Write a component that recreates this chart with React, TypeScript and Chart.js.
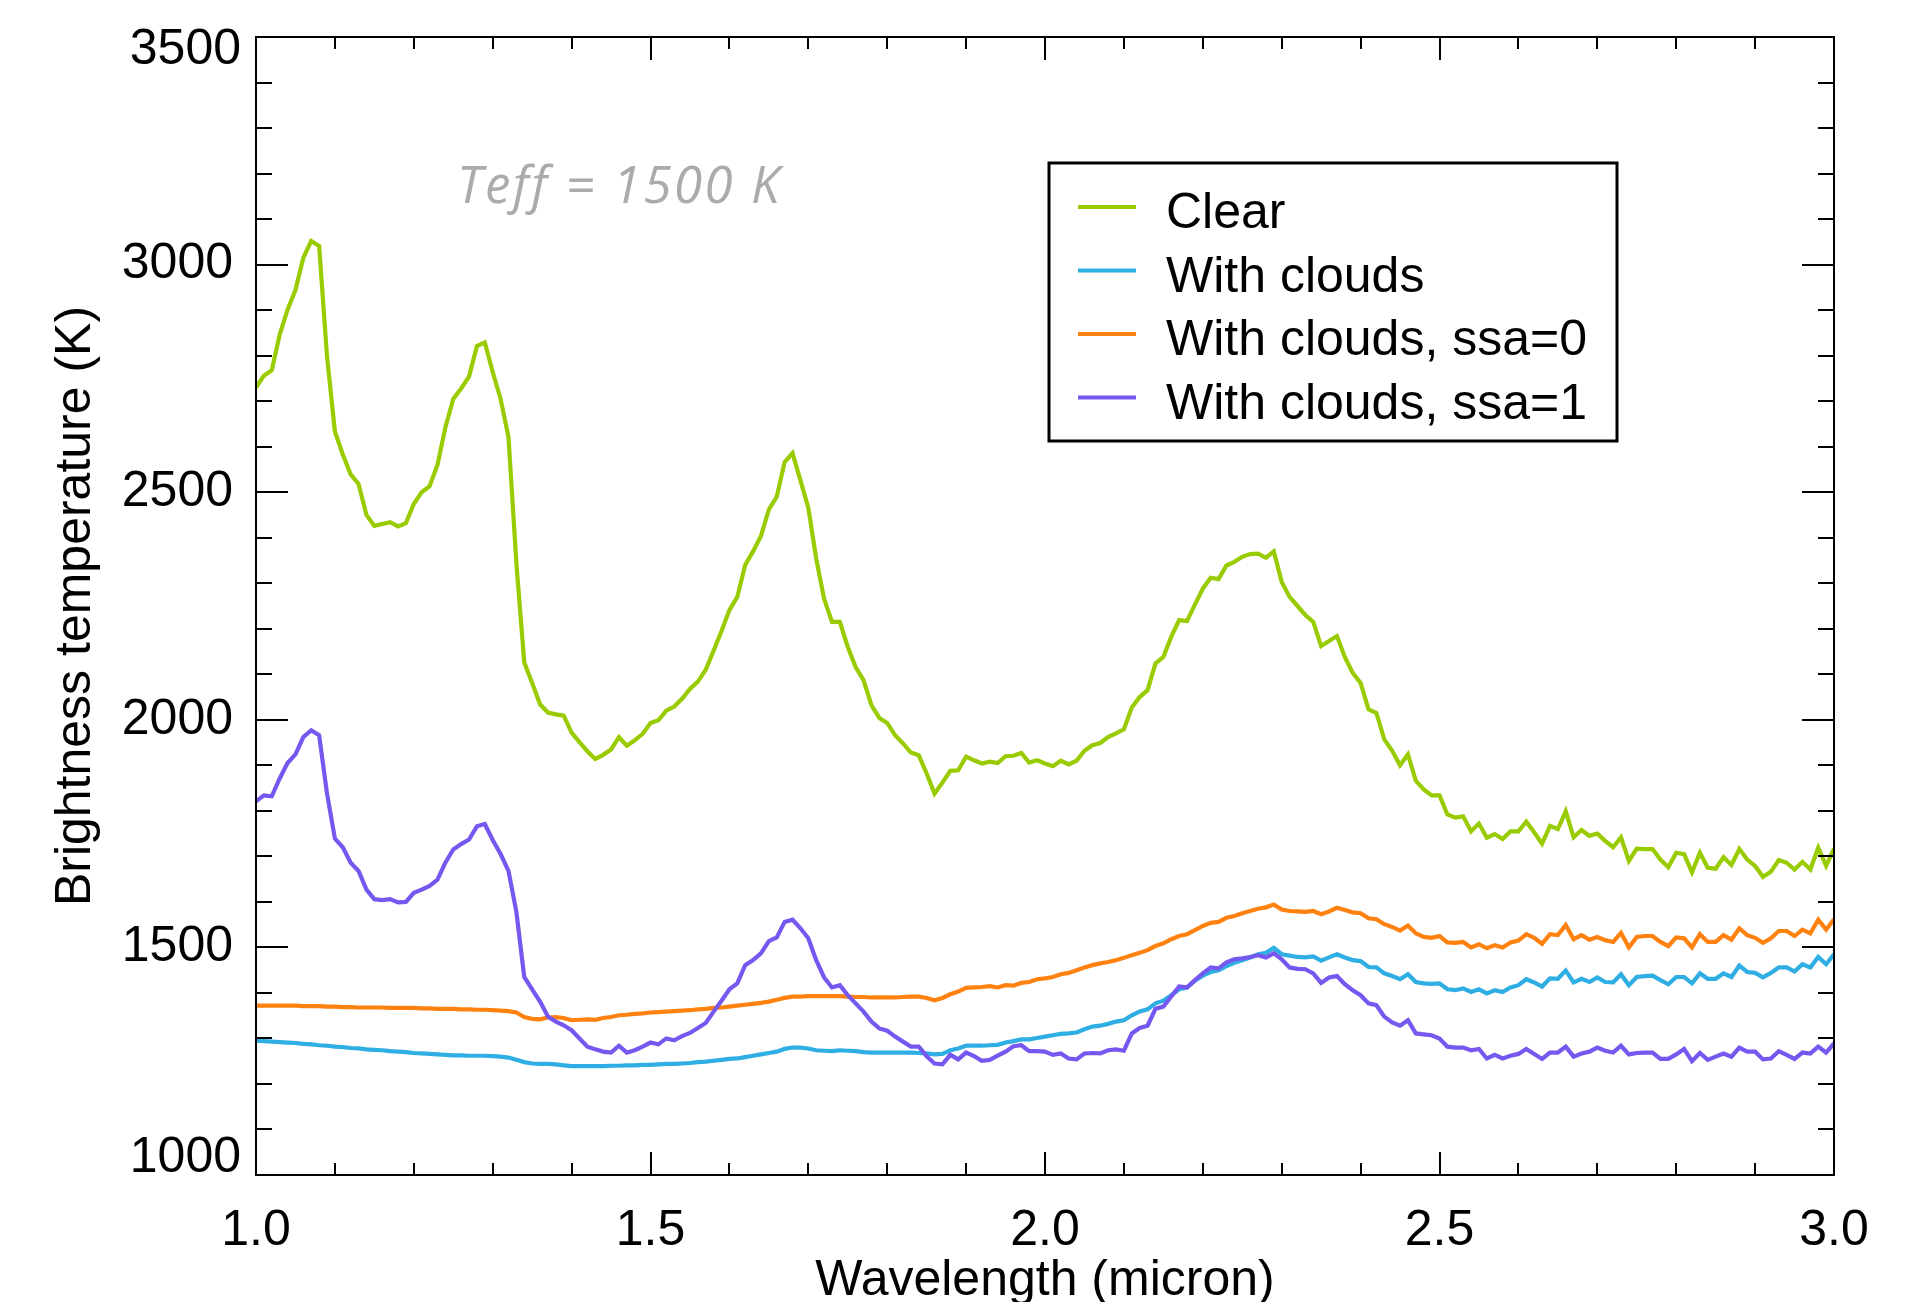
import React, { useEffect, useRef } from "react";
import { Chart, registerables } from "chart.js";

Chart.register(...registerables);

// Wavelength grid (micron)
const wavelength: number[] = [
  1.00, 1.01, 1.02, 1.03, 1.04, 1.05, 1.06, 1.07, 1.08, 1.09,
  1.10, 1.11, 1.12, 1.13, 1.14, 1.15, 1.16, 1.17, 1.18, 1.19,
  1.20, 1.21, 1.22, 1.23, 1.24, 1.25, 1.26, 1.27, 1.28, 1.29,
  1.30, 1.31, 1.32, 1.33, 1.34, 1.35, 1.36, 1.37, 1.38, 1.39,
  1.40, 1.41, 1.42, 1.43, 1.44, 1.45, 1.46, 1.47, 1.48, 1.49,
  1.50, 1.51, 1.52, 1.53, 1.54, 1.55, 1.56, 1.57, 1.58, 1.59,
  1.60, 1.61, 1.62, 1.63, 1.64, 1.65, 1.66, 1.67, 1.68, 1.69,
  1.70, 1.71, 1.72, 1.73, 1.74, 1.75, 1.76, 1.77, 1.78, 1.79,
  1.80, 1.81, 1.82, 1.83, 1.84, 1.85, 1.86, 1.87, 1.88, 1.89,
  1.90, 1.91, 1.92, 1.93, 1.94, 1.95, 1.96, 1.97, 1.98, 1.99,
  2.00, 2.01, 2.02, 2.03, 2.04, 2.05, 2.06, 2.07, 2.08, 2.09,
  2.10, 2.11, 2.12, 2.13, 2.14, 2.15, 2.16, 2.17, 2.18, 2.19,
  2.20, 2.21, 2.22, 2.23, 2.24, 2.25, 2.26, 2.27, 2.28, 2.29,
  2.30, 2.31, 2.32, 2.33, 2.34, 2.35, 2.36, 2.37, 2.38, 2.39,
  2.40, 2.41, 2.42, 2.43, 2.44, 2.45, 2.46, 2.47, 2.48, 2.49,
  2.50, 2.51, 2.52, 2.53, 2.54, 2.55, 2.56, 2.57, 2.58, 2.59,
  2.60, 2.61, 2.62, 2.63, 2.64, 2.65, 2.66, 2.67, 2.68, 2.69,
  2.70, 2.71, 2.72, 2.73, 2.74, 2.75, 2.76, 2.77, 2.78, 2.79,
  2.80, 2.81, 2.82, 2.83, 2.84, 2.85, 2.86, 2.87, 2.88, 2.89,
  2.90, 2.91, 2.92, 2.93, 2.94, 2.95, 2.96, 2.97, 2.98, 2.99,
  3.00,
];

// Brightness temperature (K)
const clear: number[] = [
  2730, 2756, 2768, 2846, 2901, 2944, 3015, 3052, 3041, 2799,
  2633, 2583, 2539, 2518, 2450, 2426, 2430, 2434, 2425, 2432,
  2474, 2500, 2513, 2560, 2642, 2705, 2728, 2754, 2821, 2829,
  2764, 2705, 2621, 2344, 2126, 2081, 2034, 2016, 2012, 2009,
  1972, 1951, 1931, 1914, 1923, 1935, 1962, 1943, 1955, 1969,
  1993, 1999, 2020, 2029, 2046, 2068, 2084, 2110, 2152, 2195,
  2241, 2270, 2340, 2370, 2404, 2462, 2490, 2566, 2586, 2526,
  2466, 2354, 2266, 2215, 2215, 2160, 2116, 2087, 2032, 2004,
  1993, 1966, 1948, 1928, 1922, 1882, 1838, 1862, 1888, 1889,
  1919, 1911, 1904, 1908, 1905, 1920, 1921, 1927, 1906, 1911,
  1904, 1898, 1910, 1902, 1910, 1932, 1944, 1949, 1962, 1970,
  1979, 2027, 2050, 2065, 2124, 2138, 2182, 2219, 2217, 2253,
  2288, 2312, 2309, 2339, 2347, 2358, 2364, 2365, 2356, 2370,
  2303, 2270, 2250, 2230, 2215, 2162, 2173, 2184, 2138, 2103,
  2081, 2023, 2015, 1957, 1932, 1900, 1924, 1866, 1847, 1834,
  1834, 1792, 1785, 1788, 1755, 1772, 1741, 1749, 1738, 1755,
  1755, 1776, 1753, 1728, 1767, 1760, 1799, 1742, 1758, 1745,
  1750, 1734, 1720, 1742, 1690, 1717, 1716, 1716, 1693, 1676,
  1708, 1705, 1665, 1708, 1675, 1673, 1698, 1681, 1716, 1693,
  1679, 1655, 1666, 1692, 1686, 1671, 1688, 1671, 1719, 1679,
  1717,
];

const withClouds: number[] = [
  1295, 1294, 1293, 1292, 1291, 1290, 1288, 1287, 1285, 1284,
  1282, 1281, 1279, 1278, 1276, 1275, 1274, 1272, 1271, 1270,
  1268, 1267, 1266, 1265, 1264, 1263, 1263, 1262, 1262, 1262,
  1261, 1260, 1258, 1253, 1248, 1245, 1244, 1244, 1243, 1241,
  1239, 1239, 1239, 1239, 1239, 1240, 1240, 1241, 1241, 1242,
  1242, 1243, 1244, 1244, 1245, 1246, 1248, 1249, 1251, 1253,
  1255, 1256, 1259, 1262, 1265, 1268, 1271, 1277, 1280, 1280,
  1278, 1274, 1273, 1272, 1274, 1273, 1272, 1270, 1269, 1269,
  1269, 1269, 1269, 1269, 1268, 1267, 1265, 1266, 1274, 1278,
  1284, 1284, 1284, 1285, 1286, 1291, 1294, 1298, 1298, 1301,
  1304, 1307, 1310, 1311, 1313, 1320, 1326, 1328, 1332, 1337,
  1340, 1351, 1359, 1364, 1377, 1383, 1395, 1408, 1412, 1427,
  1438, 1446, 1450, 1459, 1466, 1472, 1478, 1485, 1488, 1499,
  1485, 1482, 1479, 1478, 1480, 1471, 1478, 1485, 1478, 1472,
  1470, 1457, 1456, 1443, 1437, 1430, 1441, 1424, 1421, 1420,
  1421, 1408, 1406, 1410, 1402, 1408, 1399, 1406, 1402, 1412,
  1417, 1430, 1423, 1414, 1432, 1431, 1449, 1423, 1431, 1424,
  1434, 1424, 1423, 1441, 1417, 1435, 1437, 1438, 1428, 1419,
  1435, 1435, 1421, 1443, 1431, 1431, 1443, 1435, 1460, 1446,
  1444, 1434, 1444, 1456, 1456, 1447, 1463, 1456, 1479, 1463,
  1485,
];

const cloudsSsa0: number[] = [
  1372, 1372, 1372, 1372, 1372, 1372, 1371, 1371, 1371, 1370,
  1370, 1369, 1369, 1368, 1368, 1368, 1368, 1367, 1367, 1367,
  1367, 1366, 1366, 1365, 1365, 1365, 1364, 1364, 1363, 1363,
  1362, 1361, 1360, 1357, 1347, 1343, 1342, 1346, 1347, 1345,
  1340, 1341, 1342, 1341, 1345, 1347, 1351, 1352, 1354, 1355,
  1357, 1358, 1359, 1360, 1361, 1362, 1364, 1365, 1367, 1368,
  1370, 1372, 1374, 1376, 1378, 1381, 1385, 1389, 1392, 1392,
  1393, 1393, 1393, 1393, 1393, 1392, 1391, 1391, 1390, 1390,
  1390, 1390, 1391, 1392, 1392, 1389, 1384, 1389, 1397, 1403,
  1411, 1412, 1413, 1415, 1412, 1417, 1416, 1422, 1424, 1430,
  1432, 1435, 1441, 1444, 1450, 1456, 1461, 1465, 1468, 1472,
  1477, 1483, 1488, 1494, 1503, 1509, 1518, 1525, 1529, 1538,
  1547, 1554, 1556, 1565, 1569, 1575, 1580, 1585, 1588, 1594,
  1583, 1580, 1579, 1578, 1580, 1573, 1579, 1587, 1582, 1577,
  1575, 1564, 1562, 1551, 1545, 1537, 1548, 1531, 1523, 1521,
  1525, 1511, 1510, 1512, 1500, 1507, 1498, 1505, 1500, 1511,
  1515, 1529, 1521, 1508, 1529, 1527, 1549, 1518, 1527, 1517,
  1523, 1516, 1512, 1532, 1500, 1523, 1525, 1525, 1512, 1503,
  1522, 1520, 1500, 1529, 1512, 1512, 1527, 1517, 1542, 1527,
  1521, 1510, 1520, 1536, 1536, 1525, 1539, 1531, 1561, 1539,
  1562,
];

const cloudsSsa1: number[] = [
  1821, 1834, 1832, 1871, 1905, 1924, 1962, 1977, 1966, 1838,
  1739, 1720, 1686, 1668, 1627, 1606, 1604, 1606, 1599, 1600,
  1620, 1627, 1635, 1649, 1686, 1715, 1727, 1737, 1766, 1771,
  1736, 1705, 1668, 1578, 1435, 1408, 1381, 1348, 1337, 1329,
  1318, 1300, 1282, 1276, 1271, 1269, 1284, 1269, 1274, 1282,
  1291, 1287, 1300, 1296, 1305, 1312, 1323, 1334, 1359, 1383,
  1408, 1421, 1461, 1472, 1487, 1514, 1522, 1556, 1561, 1542,
  1520, 1472, 1434, 1412, 1417, 1395, 1377, 1359, 1337, 1322,
  1317, 1304, 1293, 1282, 1282, 1261, 1245, 1243, 1264, 1254,
  1269, 1261, 1251, 1253, 1262, 1271, 1283, 1285, 1272, 1272,
  1271, 1264, 1267, 1256, 1254, 1267, 1268, 1267, 1274, 1276,
  1273, 1311, 1323, 1328, 1365, 1370, 1392, 1414, 1412, 1428,
  1443, 1456, 1454, 1467, 1474, 1476, 1479, 1483, 1478, 1487,
  1474, 1456, 1453, 1452, 1443, 1422, 1434, 1437, 1419, 1406,
  1395, 1377, 1373, 1348, 1335, 1328, 1340, 1311, 1309, 1307,
  1300, 1282, 1280, 1280, 1274, 1277, 1256, 1264, 1256, 1262,
  1266, 1277, 1266, 1255, 1269, 1269, 1282, 1260, 1267, 1271,
  1280, 1273, 1269, 1284, 1265, 1268, 1269, 1269, 1255, 1255,
  1265, 1277, 1250, 1268, 1253, 1260, 1267, 1260, 1280, 1271,
  1271, 1254, 1256, 1272, 1264, 1255, 1269, 1267, 1282, 1269,
  1289,
];

const seriesLabels: string[] = [
  "Clear",
  "With clouds",
  "With clouds, ssa=0",
  "With clouds, ssa=1",
];
const seriesColors: string[] = ["#99cc00", "#2eaee3", "#ff8210", "#7658f0"];

const xTickLabels: string[] = ["1.0", "1.5", "2.0", "2.5", "3.0"];
const yTickLabels: string[] = ["1000", "1500", "2000", "2500", "3000", "3500"];

const FONT = "'Liberation Sans', Arial, Helvetica, sans-serif";

function toPoints(ys: number[]) {
  return wavelength.map((x, i) => ({ x, y: ys[i] }));
}

const framePlugin = {
  id: "idlFrame",
  afterDraw(chart: any) {
    const { ctx, chartArea } = chart;
    const { left, right, top, bottom } = chartArea;
    const xs = chart.scales.x;
    const ys = chart.scales.y;
    ctx.save();
    ctx.strokeStyle = "#000";
    ctx.lineWidth = 2;
    ctx.strokeRect(left, top, right - left, bottom - top);

    ctx.lineWidth = 2;
    ctx.beginPath();
    // y ticks (inward on both sides)
    for (let v = 1000; v <= 3500; v += 100) {
      const py = Math.round(ys.getPixelForValue(v));
      const len = v % 500 === 0 ? 32 : 16;
      ctx.moveTo(left, py);
      ctx.lineTo(left + len, py);
      ctx.moveTo(right, py);
      ctx.lineTo(right - len, py);
    }
    // x ticks (inward on both sides)
    for (let k = 10; k <= 30; k++) {
      const v = k / 10;
      const px = Math.round(xs.getPixelForValue(v));
      const len = k % 5 === 0 ? 23 : 12;
      ctx.moveTo(px, bottom);
      ctx.lineTo(px, bottom - len);
      ctx.moveTo(px, top);
      ctx.lineTo(px, top + len);
    }
    ctx.stroke();

    // extreme y labels, kept inside the frame height
    ctx.fillStyle = "#000";
    ctx.font = `50px ${FONT}`;
    ctx.textAlign = "right";
    ctx.textBaseline = "middle";
    ctx.fillText(yTickLabels[yTickLabels.length - 1], left - 15, ys.getPixelForValue(3500) + 13);
    ctx.fillText(yTickLabels[0], left - 15, ys.getPixelForValue(1000) - 17);

    // annotation
    ctx.fillStyle = "#ababab";
    ctx.font = `italic 51px 'Open Sans', 'Noto Sans', sans-serif`;
    ctx.textAlign = "left";
    ctx.textBaseline = "alphabetic";
    try {
      (ctx as any).letterSpacing = "2.5px";
    } catch (e) {}
    ctx.fillText("Teff = 1500 K", 457, 203);
    try {
      (ctx as any).letterSpacing = "0px";
    } catch (e) {}

    // legend
    const bx = 1049, by = 163, bw = 568, bh = 278;
    ctx.fillStyle = "#fff";
    ctx.fillRect(bx, by, bw, bh);
    ctx.strokeStyle = "#000";
    ctx.lineWidth = 3;
    ctx.strokeRect(bx, by, bw, bh);
    ctx.font = `50px ${FONT}`;
    chart.data.datasets.forEach((ds: any, i: number) => {
      const yy = 207 + i * 63.5;
      ctx.strokeStyle = ds.borderColor;
      ctx.lineWidth = 4;
      ctx.beginPath();
      ctx.moveTo(1078, yy);
      ctx.lineTo(1136, yy);
      ctx.stroke();
      ctx.fillStyle = "#000";
      ctx.fillText(ds.label, 1166, yy + 21);
    });
    ctx.restore();
  },
};

export default function App() {
  const ref = useRef<HTMLCanvasElement | null>(null);

  useEffect(() => {
    if (!ref.current) return;
    const datasets = [clear, withClouds, cloudsSsa0, cloudsSsa1].map((ys, i) => ({
      label: seriesLabels[i],
      data: toPoints(ys),
      borderColor: seriesColors[i],
      backgroundColor: seriesColors[i],
      borderWidth: 4.2,
      pointRadius: 0,
      pointHoverRadius: 0,
      tension: 0,
      fill: false,
      order: 3 - i,
    }));
    const chart = new Chart(ref.current, {
      type: "line",
      data: { datasets },
      options: {
        responsive: false,
        animation: false,
        devicePixelRatio: 1,
        layout: { autoPadding: false, padding: { top: 37, right: 96, left: 0, bottom: 0 } },
        plugins: {
          legend: { display: false },
          tooltip: { enabled: false },
        },
        scales: {
          x: {
            type: "linear",
            min: 1,
            max: 3,
            grid: { display: false },
            border: { display: false },
            ticks: {
              stepSize: 0.5,
              color: "#000",
              font: { family: FONT, size: 50 },
              padding: 18,
              maxRotation: 0,
              callback: (v: any) => {
                const idx = Math.round((Number(v) - 1) / 0.5);
                return xTickLabels[idx] ?? "";
              },
            },
            title: {
              display: true,
              text: "Wavelength (micron)",
              color: "#000",
              font: { family: FONT, size: 50 },
              padding: { top: 0, bottom: -9 },
            },
            afterFit: (s: any) => {
              s.height = 127;
              s.paddingLeft = 0;
              s.paddingRight = 0;
              s.paddingTop = 0;
              s.paddingBottom = 0;
            },
          },
          y: {
            type: "linear",
            min: 1000,
            max: 3500,
            grid: { display: false },
            border: { display: false },
            ticks: {
              stepSize: 500,
              color: "#000",
              font: { family: FONT, size: 50 },
              padding: 15,
              callback: (v: any) => {
                const n = Number(v);
                if (n === 1000 || n === 3500) return "";
                const idx = Math.round((n - 1000) / 500);
                return yTickLabels[idx] ?? "";
              },
            },
            title: {
              display: true,
              text: "Brightness temperature (K)",
              color: "#000",
              font: { family: FONT, size: 50 },
              padding: { top: 46, bottom: 0 },
            },
            afterFit: (s: any) => {
              s.width = 256;
              s.paddingLeft = 0;
              s.paddingRight = 0;
              s.paddingTop = 0;
              s.paddingBottom = 0;
            },
          },
        },
      },
      plugins: [framePlugin],
    } as any);
    return () => chart.destroy();
  }, []);

  return (
    <div style={{ position: "absolute", left: 0, top: 0, width: 1930, height: 1302, background: "#fff" }}>
      <canvas ref={ref} width={1930} height={1302} style={{ display: "block", width: 1930, height: 1302 }} />
    </div>
  );
}
